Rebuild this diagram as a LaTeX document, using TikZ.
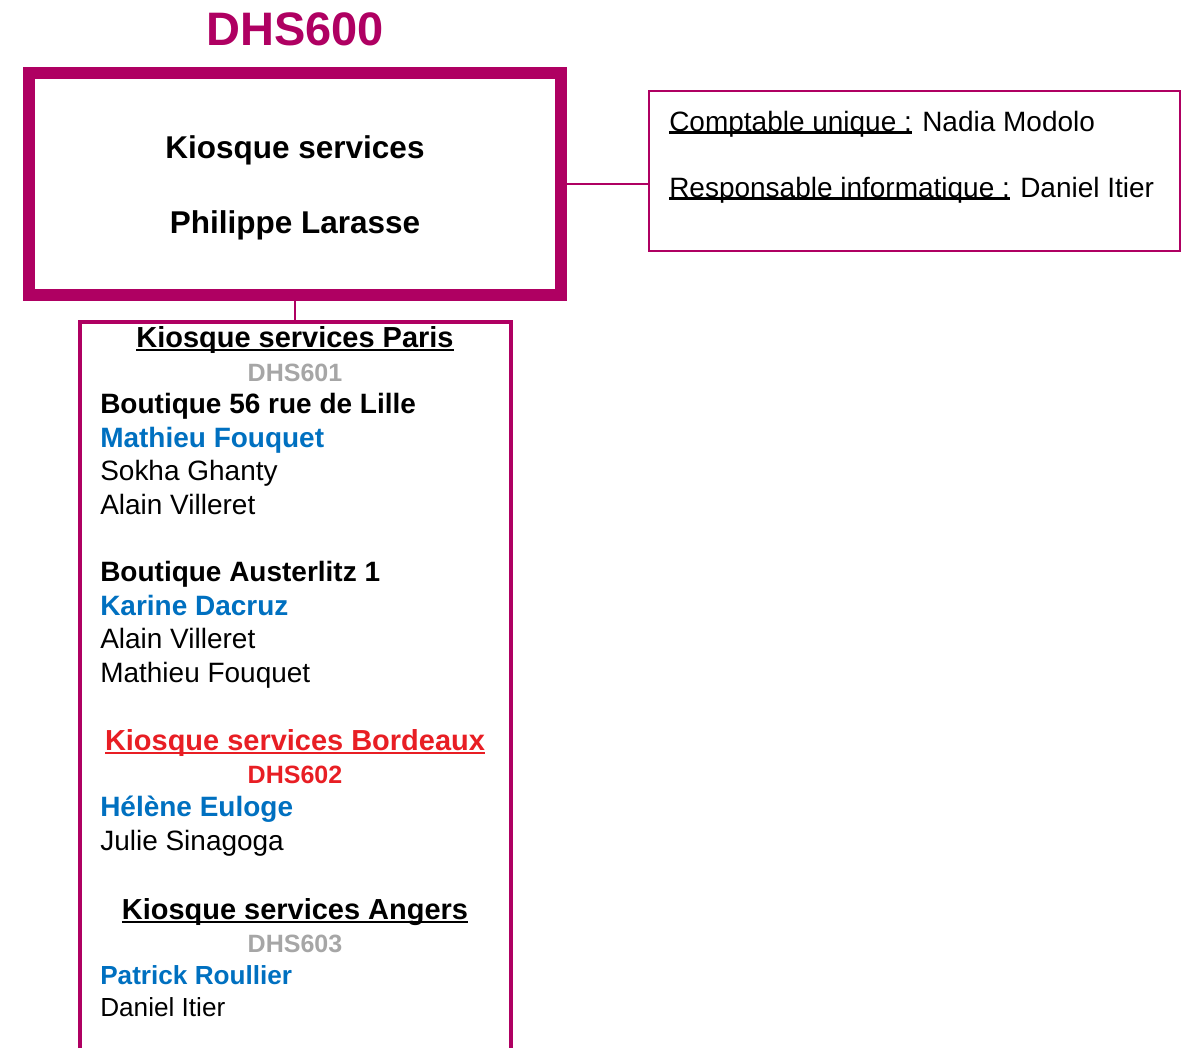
\documentclass[tikz,border=0pt]{standalone}
\usepackage{fontspec}
\setmainfont{Liberation Sans}
\usetikzlibrary{calc}
\definecolor{kmagenta}{RGB}{175,0,98}
\definecolor{kblue}{RGB}{0,112,192}
\definecolor{kred}{RGB}{232,30,36}
\definecolor{kgray}{RGB}{166,166,166}
\newlength{\ulwidth}
\newcommand{\ulin}[2][0.14em]{\settowidth{\ulwidth}{#2}\rlap{\rule[-#1]{\ulwidth}{0.075em}}#2}

\begin{document}
\begin{tikzpicture}[x=0.025cm, y=-0.025cm]
	\tikzset{frame/.style={draw=kmagenta, line width=2.4pt}}
	\tikzset{edge/.style={draw=kmagenta, line width=1.4pt}}
	\tikzset{head/.style={anchor=base, inner sep=0pt, font=\fontsize{20.6}{24}\selectfont\bfseries}}
	\tikzset{code/.style={anchor=base, inner sep=0pt, font=\fontsize{17.8}{21}\selectfont\bfseries}}
	\tikzset{person/.style={anchor=base west, inner sep=0pt, font=\fontsize{19.9}{24}\selectfont}}
	\tikzset{shop/.style={person, font=\fontsize{19.9}{24}\selectfont\bfseries}}
	\tikzset{lead/.style={shop, text=kblue}}
	\tikzset{small/.style={font=\fontsize{18.6}{22}\selectfont}}
	\tikzset{smalllead/.style={lead, font=\fontsize{18.6}{22}\selectfont\bfseries}}
	
	\useasboundingbox (0,0) rectangle (1181,1048);
	
	\node(title) at (295,45) [anchor=base, inner sep=0pt, text=kmagenta, font=\fontsize{33.4}{40}\selectfont\bfseries] {DHS600};
	\node(kiosque) at (295,184) [draw=kmagenta, line width=8.5pt, minimum width=13.3cm, minimum height=5.55cm, align=center, font=\fontsize{22.4}{53.4}\selectfont\bfseries] {\rule{0pt}{21.5pt}Kiosque services\\Philippe Larasse};
	
	\node(roles) at (914.5,171) [frame, line width=1.4pt, minimum width=13.275cm, minimum height=4cm] {};
	\node(comptable) at (669,131) [person] {\ulin[0.09em]{Comptable unique :} Nadia Modolo};
	\node(informatique) at (669,197) [person] {\ulin[0.09em]{Responsable informatique :} Daniel Itier};
	\draw[edge] (kiosque.east) -- (kiosque.east -| roles.west);
	
	% cadre des kiosques, ouvert en bas
	\coordinate (paris) at (295,322);
	\draw[edge] (kiosque.south) -- (paris);
	\draw[frame] (80,1048) |- (paris) -| (511,1048);
	
	\node(paris_head) at (295,347) [head] {\ulin{Kiosque services Paris}};
	\node(paris_code) at (295,381) [code, text=kgray] {DHS601};
	\node(lille) at (100,413) [shop] {Boutique 56 rue de Lille};
	\node(lille1) at (100,447) [lead] {Mathieu Fouquet};
	\node(lille2) at (100,480) [person] {Sokha Ghanty};
	\node(lille3) at (100,514) [person] {Alain Villeret};
	
	\node(austerlitz) at (100,581) [shop] {Boutique Austerlitz 1};
	\node(austerlitz1) at (100,615) [lead] {Karine Dacruz};
	\node(austerlitz2) at (100,648) [person] {Alain Villeret};
	\node(austerlitz3) at (100,682) [person] {Mathieu Fouquet};
	
	\node(bordeaux_head) at (295,750) [head, text=kred] {\ulin{Kiosque services Bordeaux}};
	\node(bordeaux_code) at (295,783) [code, text=kred] {DHS602};
	\node(bordeaux1) at (100,816) [lead] {Hélène Euloge};
	\node(bordeaux2) at (100,850) [person] {Julie Sinagoga};
	
	\node(angers_head) at (295,919) [head] {\ulin{Kiosque services Angers}};
	\node(angers_code) at (295,952) [code, text=kgray] {DHS603};
	\node(angers1) at (100,984) [smalllead] {Patrick Roullier};
	\node(angers2) at (100,1016) [person, small] {Daniel Itier};
	
\end{tikzpicture}
\end{document}
